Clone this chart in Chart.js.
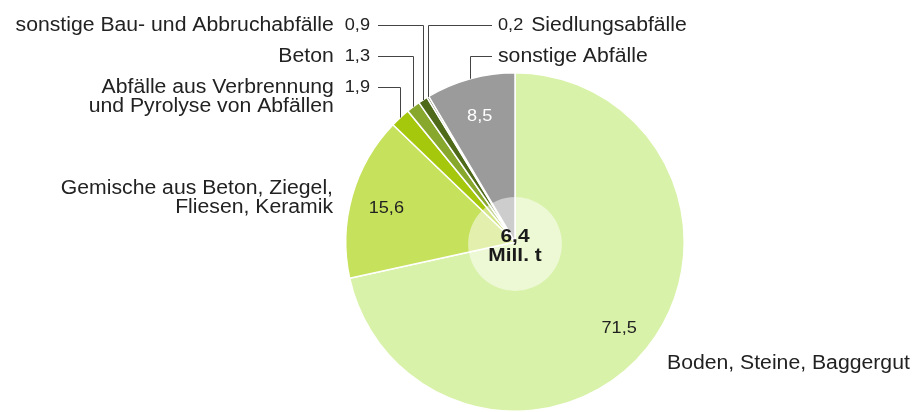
<!DOCTYPE html>
<html lang="de">
<head>
<meta charset="utf-8">
<title>Abfälle</title>
<script src="https://cdn.jsdelivr.net/npm/chart.js@4/dist/chart.umd.min.js"></script>
<style>
  html, body { margin: 0; padding: 0; background: #fff; }
  #wrap { width: 915px; height: 412px; position: relative; }
</style>
</head>
<body>
<div id="wrap"><canvas id="waste"></canvas></div>
<script>
// categories, clockwise from the top
const categories = [
  ['Boden, Steine, Baggergut'],
  ['Gemische aus Beton, Ziegel,', 'Fliesen, Keramik'],
  ['Abfälle aus Verbrennung', 'und Pyrolyse von Abfällen'],
  ['Beton'],
  ['sonstige Bau- und Abbruchabfälle'],
  ['Siedlungsabfälle'],
  ['sonstige Abfälle']
];
// share in percent
const shares = [71.5, 15.6, 1.9, 1.3, 0.9, 0.2, 8.5];
const totalLabel = ['6,4', 'Mill. t'];
const sliceColors = ['#d9f2a9', '#c6e15b', '#a5c80c', '#87a82c', '#4f6b1a', '#5b6640', '#9b9b9b'];

// where the names go
const labelLayout = [
  { kind: 'free', x: 667, y: 363, align: 'left', inside: true },
  { kind: 'free', x: 333, y: 188, align: 'right', inside: true },
  { kind: 'leader', side: 'left', y: 87 },
  { kind: 'leader', side: 'left', y: 56 },
  { kind: 'leader', side: 'left', y: 25 },
  { kind: 'leader', side: 'right', y: 25 },
  { kind: 'leader', side: 'right', y: 56, inside: true, insideColor: '#fff' }
];

const fmt = v => v.toFixed(1).replace('.', ',');
const FONT = '"Liberation Sans", Arial, Helvetica, sans-serif';

function txt(ctx, s, x, y, align, size, color, sx, bold) {
  ctx.save();
  ctx.font = (bold ? 'bold ' : '') + size + 'px ' + FONT;
  ctx.fillStyle = color;
  ctx.textAlign = align;
  ctx.textBaseline = 'middle';
  ctx.translate(x, y);
  ctx.scale(sx, 1);
  ctx.fillText(s, 0, 0);
  const w = ctx.measureText(s).width * sx;
  ctx.restore();
  return w;
}

const pieLabels = {
  id: 'pieLabels',
  afterDatasetsDraw(chart) {
    const ctx = chart.ctx;
    const arcs = chart.getDatasetMeta(0).data;
    const ink = '#222';
    const nameSize = 20, nameSx = 1.06, numSize = 16.5, numSx = 1.1, lineGap = 19;

    arcs.forEach((arc, i) => {
      const p = arc.getProps(['x', 'y', 'startAngle', 'endAngle', 'outerRadius'], true);
      const mid = (p.startAngle + p.endAngle) / 2;
      const lay = labelLayout[i];
      const value = fmt(shares[i]);

      if (lay.inside) {
        const r = p.outerRadius * 0.79;
        txt(ctx, value, p.x + Math.cos(mid) * r, p.y + Math.sin(mid) * r + 3, 'center', numSize, lay.insideColor || ink, numSx);
      }

      if (lay.kind === 'free') {
        categories[i].forEach((line, k) => {
          txt(ctx, line, lay.x, lay.y + k * lineGap, lay.align, nameSize, ink, nameSx);
        });
        return;
      }

      // leader: straight up from the arc, then sideways to the text
      const ax = p.x + Math.cos(mid) * p.outerRadius;
      const ay = p.y + Math.sin(mid) * p.outerRadius;
      const endX = lay.side === 'left' ? 378 : 492;
      ctx.save();
      ctx.strokeStyle = '#444';
      ctx.lineWidth = 1;
      ctx.beginPath();
      ctx.moveTo(Math.round(ax) + 0.5, ay);
      ctx.lineTo(Math.round(ax) + 0.5, lay.y + 0.5);
      ctx.lineTo(endX, lay.y + 0.5);
      ctx.stroke();
      ctx.restore();

      if (lay.side === 'left') {
        const w = txt(ctx, value, 370, lay.y, 'right', numSize, ink, numSx);
        const nx = 370 - w - 11;
        categories[i].forEach((line, k) => {
          txt(ctx, line, nx, lay.y + k * lineGap, 'right', nameSize, ink, nameSx);
        });
      } else {
        let nx = 498;
        if (!lay.inside) nx += txt(ctx, value, nx, lay.y, 'left', numSize, ink, numSx) + 8;
        categories[i].forEach((line, k) => {
          txt(ctx, line, nx, lay.y + k * lineGap, 'left', nameSize, ink, nameSx);
        });
      }
    });

    // pale disc with the total in the middle
    const p0 = arcs[0].getProps(['x', 'y', 'outerRadius'], true);
    ctx.save();
    ctx.fillStyle = 'rgba(255,255,255,0.5)';
    ctx.beginPath();
    ctx.arc(p0.x, p0.y + 2, p0.outerRadius * 0.277, 0, Math.PI * 2);
    ctx.fill();
    ctx.restore();
    txt(ctx, totalLabel[0], p0.x, p0.y - 5, 'center', 19, '#1a1a1a', 1.1, true);
    txt(ctx, totalLabel[1], p0.x, p0.y + 14, 'center', 19, '#1a1a1a', 1.1, true);
  }
};

const chart = new Chart(document.getElementById('waste'), {
  type: 'pie',
  data: {
    labels: categories.map(c => c.join(' ')),
    datasets: [{
      data: shares,
      backgroundColor: sliceColors,
      borderColor: '#fff',
      borderWidth: 1.5
    }]
  },
  options: {
    responsive: true,
    maintainAspectRatio: false,
    animation: false,
    layout: { padding: { left: 345, right: 230, top: 72, bottom: 0 } },
    plugins: {
      legend: { display: false },
      tooltip: { enabled: false }
    }
  },
  plugins: [pieLabels]
});
</script>
</body>
</html>
